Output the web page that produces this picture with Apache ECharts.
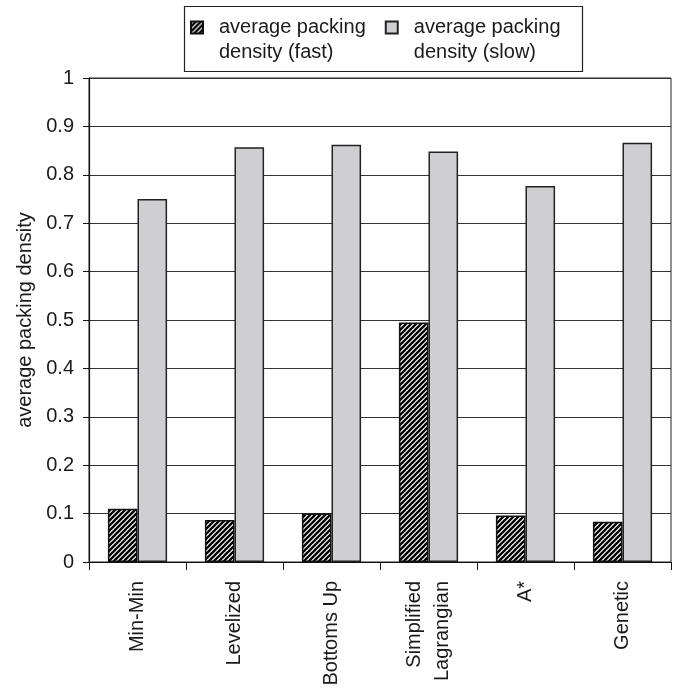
<!DOCTYPE html>
<html>
<head>
<meta charset="utf-8">
<script src="https://cdn.jsdelivr.net/npm/echarts@6/dist/echarts.min.js"></script>
<style>
  html, body { margin: 0; padding: 0; background: #fff; }
  #chart { width: 679px; height: 697px; }
</style>
</head>
<body>
<div id="chart"></div>
<script>
// Packing density per scheduling heuristic
const categories = ['Min-Min', 'Levelized', 'Bottoms Up', 'Simplified\nLagrangian', 'A*', 'Genetic'];
const fastDensity = [0.11, 0.087, 0.10, 0.495, 0.096, 0.083];
const slowDensity = [0.75, 0.857, 0.862, 0.848, 0.777, 0.866];
const yTicks = [0, 0.1, 0.2, 0.3, 0.4, 0.5, 0.6, 0.7, 0.8, 0.9, 1];

const FONT = '"Liberation Sans", Arial, Helvetica, sans-serif';
const INK = '#1a1a1a';

// diagonal black/white hatch tile for the "fast" bars
function hatchTile() {
  const n = 5;
  const c = document.createElement('canvas');
  c.width = n; c.height = n;
  const g = c.getContext('2d');
  g.fillStyle = '#ffffff';
  g.fillRect(0, 0, n, n);
  g.strokeStyle = '#000000';
  g.lineWidth = 2.3;
  g.beginPath();
  for (let k = -n; k <= 2 * n; k += n) {
    g.moveTo(k - 1, n + 1);
    g.lineTo(k + n + 1, -1);
  }
  g.stroke();
  return c;
}

const chart = echarts.init(document.getElementById('chart'), null, { renderer: 'canvas' });

const legendLine = 25;

chart.setOption({
  animation: false,
  backgroundColor: '#ffffff',
  textStyle: { fontFamily: FONT, color: INK },
  grid: {
    left: 89, right: 8, top: 78, bottom: 135,
    show: true, borderColor: '#222', borderWidth: 1, backgroundColor: 'transparent'
  },
  graphic: [{
    type: 'rect',
    left: 182, top: 4,
    shape: { width: 398, height: 65 },
    style: { fill: 'none', stroke: '#222', lineWidth: 1.2 },
    silent: true
  }],
  legend: {
    left: 190, top: -10,
    icon: 'rect',
    itemWidth: 12, itemHeight: 12,
    itemGap: 19,
    padding: 0,
    textStyle: {
      fontFamily: FONT, fontSize: 20, color: INK,
      lineHeight: legendLine,
      padding: [0, 0, 0, 11]
    },
    // leading blank line keeps the swatch level with the first text line
    formatter: function (name) {
      return ' \n' + name.replace('packing density', 'packing\ndensity');
    },
    data: ['average packing density (fast)', 'average packing density (slow)']
  },
  xAxis: {
    type: 'category',
    data: categories,
    boundaryGap: true,
    axisLine: { lineStyle: { color: '#111', width: 1.2 } },
    axisTick: { show: true, length: 8, alignWithLabel: false, lineStyle: { color: '#111' } },
    axisLabel: {
      rotate: 90, margin: 19, interval: 0,
      fontFamily: FONT, fontSize: 20, color: INK, lineHeight: 28
    }
  },
  yAxis: {
    type: 'value',
    min: 0, max: 1, interval: 0.1,
    name: 'average packing density',
    nameLocation: 'middle',
    nameGap: 50,
    nameTextStyle: { fontFamily: FONT, fontSize: 20, color: INK },
    axisLine: { show: true, lineStyle: { color: '#111', width: 1.2 } },
    axisTick: { show: true, length: 6, lineStyle: { color: '#111' } },
    axisLabel: {
      margin: 15, fontFamily: FONT, fontSize: 20, color: INK,
      formatter: function (v) {
        const t = yTicks.find(function (y) { return Math.abs(y - v) < 1e-9; });
        return String(t !== undefined ? t : Math.round(v * 10) / 10);
      }
    },
    splitLine: { show: true, lineStyle: { color: '#333', width: 1 } }
  },
  series: [
    {
      name: 'average packing density (fast)',
      type: 'bar',
      data: fastDensity,
      barGap: '0%',
      barCategoryGap: '39%',
      itemStyle: {
        color: { image: hatchTile(), repeat: 'repeat' },
        borderColor: '#111', borderWidth: 1.5
      }
    },
    {
      name: 'average packing density (slow)',
      type: 'bar',
      data: slowDensity,
      barGap: '0%',
      barCategoryGap: '39%',
      itemStyle: { color: '#cfcfd1', borderColor: '#222', borderWidth: 1.5 }
    }
  ]
});
</script>
</body>
</html>
